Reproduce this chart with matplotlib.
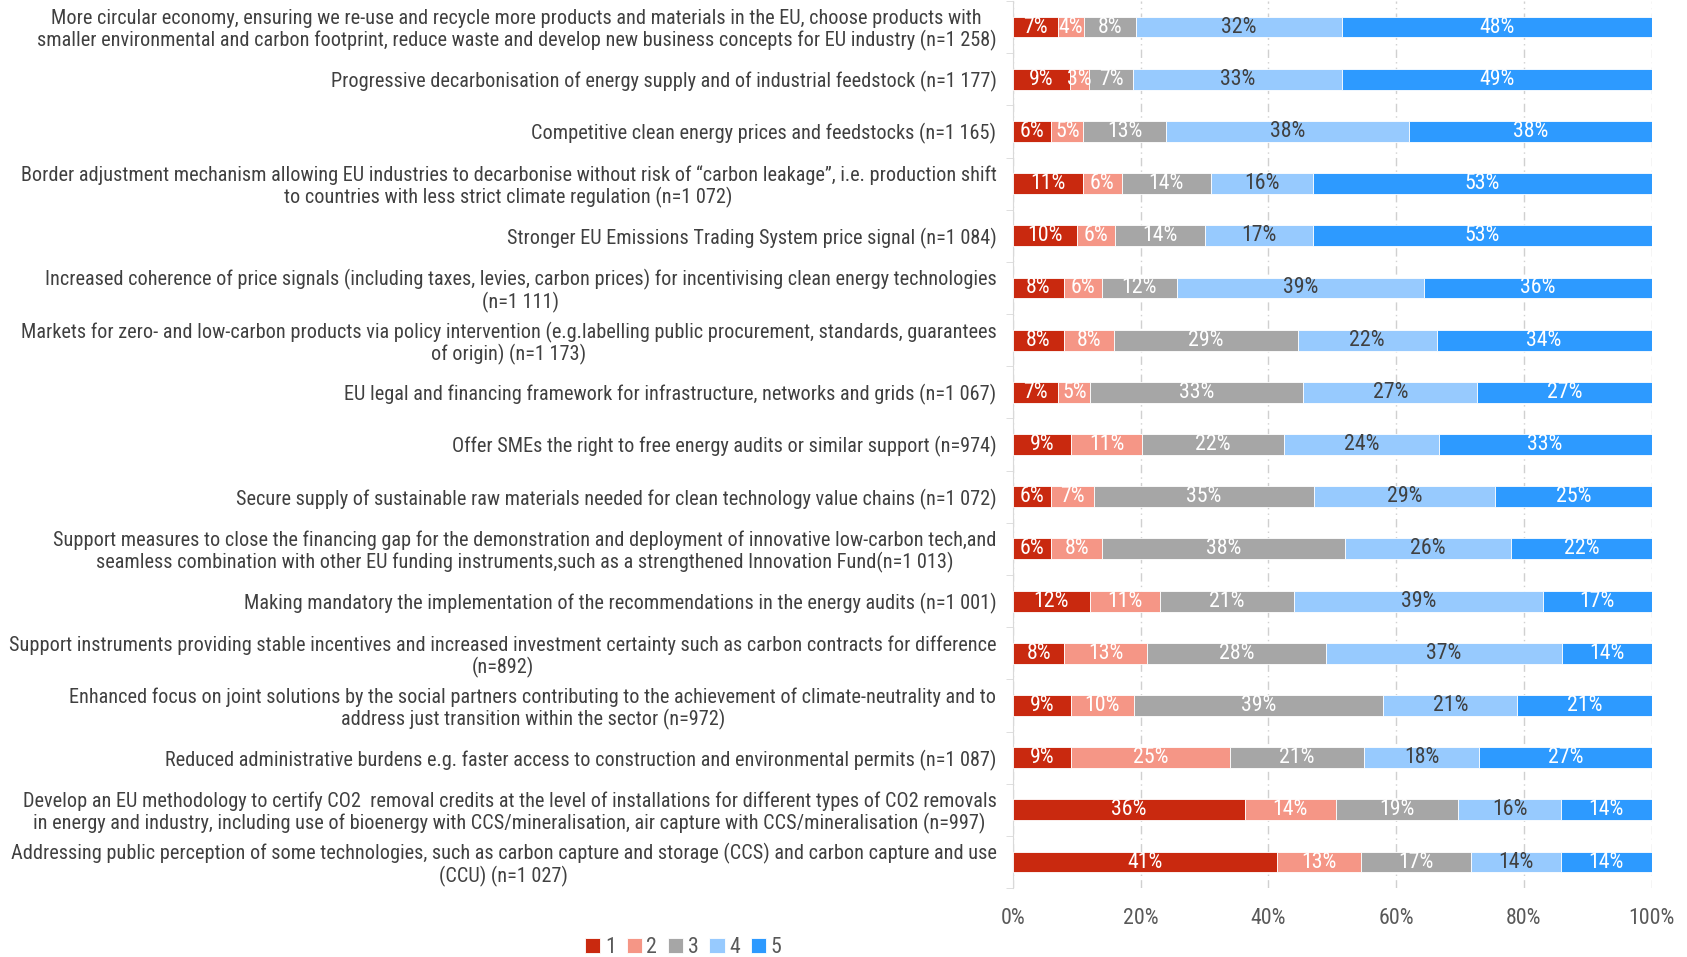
import numpy as np
import matplotlib
matplotlib.use('Agg')
import matplotlib.pyplot as plt
from matplotlib import font_manager
from matplotlib.ticker import PercentFormatter

categories = [
    "More circular economy, ensuring we re-use and recycle more products and materials in the EU, choose products with\nsmaller environmental and carbon footprint, reduce waste and develop new business concepts for EU industry (n=1 258)",
    "Progressive decarbonisation of energy supply and of industrial feedstock (n=1 177)",
    "Competitive clean energy prices and feedstocks (n=1 165)",
    "Border adjustment mechanism allowing EU industries to decarbonise without risk of \u201ccarbon leakage\u201d, i.e. production shift\nto countries with less strict climate regulation (n=1 072)",
    "Stronger EU Emissions Trading System price signal (n=1 084)",
    "Increased coherence of price signals (including taxes, levies, carbon prices) for incentivising clean energy technologies\n(n=1 111)",
    "Markets for zero- and low-carbon products via policy intervention (e.g.labelling public procurement, standards, guarantees\nof origin) (n=1 173)",
    "EU legal and financing framework for infrastructure, networks and grids (n=1 067)",
    "Offer SMEs the right to free energy audits or similar support (n=974)",
    "Secure supply of sustainable raw materials needed for clean technology value chains (n=1 072)",
    "Support measures to close the financing gap for the demonstration and deployment of innovative low-carbon tech,and\nseamless combination with other EU funding instruments,such as a strengthened Innovation Fund(n=1 013)",
    "Making mandatory the implementation of the recommendations in the energy audits (n=1 001)",
    "Support instruments providing stable incentives and increased investment certainty such as carbon contracts for difference\n(n=892)",
    "Enhanced focus on joint solutions by the social partners contributing to the achievement of climate-neutrality and to\naddress just transition within the sector (n=972)",
    "Reduced administrative burdens e.g. faster access to construction and environmental permits (n=1 087)",
    "Develop an EU methodology to certify CO2  removal credits at the level of installations for different types of CO2 removals\nin energy and industry, including use of bioenergy with CCS/mineralisation, air capture with CCS/mineralisation (n=997)",
    "Addressing public perception of some technologies, such as carbon capture and storage (CCS) and carbon capture and use\n(CCU) (n=1 027)",
]

series_names = ["1", "2", "3", "4", "5"]
s1 = [7, 9, 6, 11, 10, 8, 8, 7, 9, 6, 6, 12, 8, 9, 9, 36, 41]
s2 = [4, 3, 5, 6, 6, 6, 8, 5, 11, 7, 8, 11, 13, 10, 25, 14, 13]
s3 = [8, 7, 13, 14, 14, 12, 29, 33, 22, 35, 38, 21, 28, 39, 21, 19, 17]
s4 = [32, 33, 38, 16, 17, 39, 22, 27, 24, 29, 26, 39, 37, 21, 18, 16, 14]
s5 = [48, 49, 38, 53, 53, 36, 34, 27, 33, 25, 22, 17, 14, 21, 27, 14, 14]

colors = ["#C9290F", "#F59686", "#A6A6A6", "#97CAFE", "#2D9AFF"]
text_colors = ["white", "white", "white", "#404040", "white"]

# pick a narrow font if one is installed
installed = set(f.name for f in font_manager.fontManager.ttflist)
family = 'Lato'
for cand in ['Liberation Sans Narrow', 'DejaVu Sans Condensed', 'Roboto Condensed',
             'Open Sans Condensed', 'Noto Sans Condensed', 'Lato']:
    if cand in installed:
        family = cand
        break
plt.rcParams['font.family'] = [family, 'DejaVu Sans']

fig = plt.figure(figsize=(16.87, 9.57), dpi=100)
ax = fig.add_axes([0.6005, 0.072, 0.3785, 0.927])

# scale label font so the widest line is about 985 px, like the reference
renderer = fig.canvas.get_renderer()
w = 0
for c in categories:
    for line in c.split('\n'):
        probe = fig.text(0, 0, line, fontsize=12)
        w = max(w, probe.get_window_extent(renderer).width)
        probe.remove()
label_fs = 12 * 985 / w
small_fs = label_fs * 1.08

data = np.array([s1, s2, s3, s4, s5], dtype=float)
shares = data / data.sum(axis=0) * 100  # 100% stacked
y = np.arange(len(categories))
left = np.zeros(len(categories))
for i, name in enumerate(series_names):
    ax.barh(y, shares[i], left=left, height=0.4, color=colors[i],
            edgecolor='white', linewidth=0.6, label=name, zorder=3)
    for j in range(len(categories)):
        ax.text(left[j] + shares[i][j] / 2, y[j], f"{int(data[i][j])}%",
                ha='center', va='center', color=text_colors[i],
                fontsize=small_fs, zorder=4)
    left += shares[i]

ax.set_xlim(0, 100)
ax.set_ylim(len(categories) - 0.5, -0.5)
ax.xaxis.set_major_formatter(PercentFormatter(decimals=0))
ax.set_xticks(np.arange(0, 101, 20))
ax.tick_params(axis='x', length=0, labelsize=small_fs, labelcolor='#595959', pad=14)

ax.set_yticks(y)
ax.set_yticklabels(categories, fontsize=label_fs, color='#404040',
                   multialignment='center', linespacing=1.1)
ax.set_yticks(np.arange(-0.5, len(categories), 1), minor=True)
ax.tick_params(axis='y', which='major', length=0, pad=12)
ax.tick_params(axis='y', which='minor', length=5, color='#D9D9D9')

ax.grid(axis='x', color='#D0D0D0', linestyle=(0, (6, 3, 1, 3)), linewidth=1, zorder=0)
for s in ['top', 'right', 'bottom']:
    ax.spines[s].set_visible(False)
ax.spines['left'].set_color('#D9D9D9')

fig.legend(loc='center', bbox_to_anchor=(0.405, 0.01), ncol=5, frameon=False,
           fontsize=small_fs, handlelength=0.7, handleheight=0.7, handletextpad=0.2,
           columnspacing=0.5, labelcolor='#595959')

fig.savefig('out.png', dpi=100)
